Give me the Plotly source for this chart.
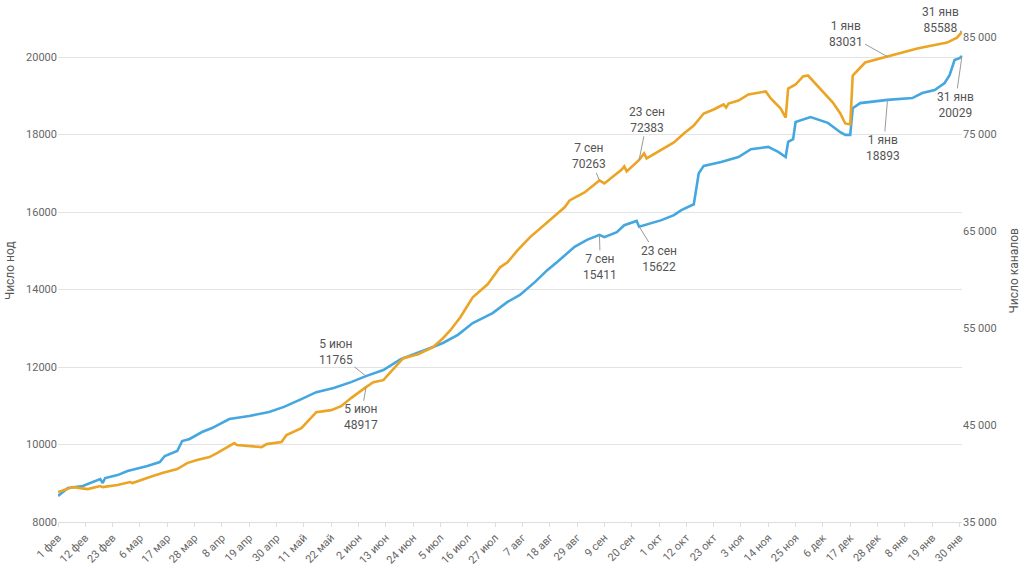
import plotly.graph_objects as go

# ---- data ----
nodes_dates = ["2021-02-01","2021-02-05","2021-02-11","2021-02-15","2021-02-18","2021-02-19","2021-02-20",
    "2021-02-25","2021-03-01","2021-03-09","2021-03-14","2021-03-16","2021-03-21","2021-03-23","2021-03-26",
    "2021-03-31","2021-04-04","2021-04-11","2021-04-19","2021-04-27","2021-05-03","2021-05-10","2021-05-16",
    "2021-05-23","2021-05-30","2021-06-05","2021-06-12","2021-06-19","2021-06-26","2021-07-02","2021-07-06",
    "2021-07-12","2021-07-18","2021-07-26","2021-08-01","2021-08-06","2021-08-12","2021-08-17","2021-08-21",
    "2021-08-28","2021-09-02","2021-09-07","2021-09-09","2021-09-14","2021-09-17","2021-09-22","2021-09-23",
    "2021-09-28","2021-10-02","2021-10-07","2021-10-10","2021-10-15","2021-10-17","2021-10-19","2021-10-26",
    "2021-11-02","2021-11-07","2021-11-14","2021-11-18","2021-11-21","2021-11-22","2021-11-24","2021-11-25",
    "2021-12-01","2021-12-08","2021-12-13","2021-12-15","2021-12-17","2021-12-18","2021-12-21","2022-01-01",
    "2022-01-11","2022-01-15","2022-01-20","2022-01-24","2022-01-26","2022-01-28","2022-01-30","2022-01-31"]
nodes_values = [8670,8877,8930,9030,9110,9006,9135,
    9210,9316,9445,9548,9703,9832,10090,10142,
    10322,10425,10658,10735,10840,10970,11170,11350,
    11460,11610,11765,11920,12200,12360,12515,12620,
    12830,13135,13390,13680,13860,14190,14500,14710,
    15100,15280,15411,15350,15480,15660,15770,15622,
    15720,15790,15920,16050,16200,17000,17190,17290,
    17420,17620,17680,17550,17420,17810,17880,18320,
    18450,18300,18060,17990,17990,18680,18810,18893,
    18940,19070,19150,19330,19530,19920,19970,20029]

channels_dates = ["2021-02-01","2021-02-07","2021-02-13","2021-02-18","2021-02-19","2021-02-25","2021-03-02",
    "2021-03-03","2021-03-10","2021-03-15","2021-03-21","2021-03-25","2021-03-29","2021-04-03","2021-04-06",
    "2021-04-10","2021-04-13","2021-04-14","2021-04-19","2021-04-24","2021-04-26","2021-05-02","2021-05-04",
    "2021-05-10","2021-05-16","2021-05-22","2021-05-26","2021-05-30","2021-06-05","2021-06-08","2021-06-12",
    "2021-06-15","2021-06-20","2021-06-26","2021-07-02","2021-07-06","2021-07-09","2021-07-13","2021-07-18",
    "2021-07-24","2021-07-29","2021-08-01","2021-08-05","2021-08-10","2021-08-17","2021-08-20","2021-08-24",
    "2021-08-26","2021-09-01","2021-09-06","2021-09-07","2021-09-09","2021-09-12","2021-09-16","2021-09-17",
    "2021-09-18","2021-09-23","2021-09-25","2021-09-26","2021-10-02","2021-10-07","2021-10-11","2021-10-15",
    "2021-10-19","2021-10-23","2021-10-27","2021-10-28","2021-10-29","2021-11-02","2021-11-06","2021-11-11",
    "2021-11-13","2021-11-15","2021-11-19","2021-11-21","2021-11-22","2021-11-25","2021-11-28","2021-11-30",
    "2021-12-05","2021-12-10","2021-12-13","2021-12-15","2021-12-17","2021-12-18","2021-12-23","2022-01-01",
    "2022-01-05","2022-01-13","2022-01-19","2022-01-25","2022-01-29","2022-01-31"]
channels_values = [38090,38600,38400,38710,38600,38815,39120,
    39020,39640,40050,40460,41080,41390,41700,42110,
    42730,43150,42940,42840,42730,43040,43250,43970,
    44690,46340,46550,46960,47790,48917,49430,49640,
    50470,51910,52320,53040,53970,54800,56140,58200,
    59540,61290,61800,63040,64380,65930,66650,67480,
    68200,69020,70050,70263,69950,70570,71390,71700,
    71190,72383,73050,72530,73460,74180,75110,75930,
    77170,77580,78100,77790,78200,78510,79130,79330,
    79440,78720,77680,76750,79750,80160,80990,81090,
    79750,78300,77170,76140,76030,81090,82430,83031,
    83350,83870,84180,84490,85000,85588]

x_tick_vals = ["2021-02-01","2021-02-12","2021-02-23","2021-03-06","2021-03-17","2021-03-28","2021-04-08",
    "2021-04-19","2021-04-30","2021-05-11","2021-05-22","2021-06-02","2021-06-13","2021-06-24","2021-07-05",
    "2021-07-16","2021-07-27","2021-08-07","2021-08-18","2021-08-29","2021-09-09","2021-09-20","2021-10-01",
    "2021-10-12","2021-10-23","2021-11-03","2021-11-14","2021-11-25","2021-12-06","2021-12-17","2021-12-28",
    "2022-01-08","2022-01-19","2022-01-30"]
x_tick_text = ["1 фев","12 фев","23 фев","6 мар","17 мар","28 мар","8 апр","19 апр","30 апр","11 май",
    "22 май","2 июн","13 июн","24 июн","5 июл","16 июл","27 июл","7 авг","18 авг","29 авг","9 сен",
    "20 сен","1 окт","12 окт","23 окт","3 ноя","14 ноя","25 ноя","6 дек","17 дек","28 дек","8 янв",
    "19 янв","30 янв"]
left_tick_vals = [8000, 10000, 12000, 14000, 16000, 18000, 20000]
right_tick_vals = [35000, 45000, 55000, 65000, 75000, 85000]
right_tick_text = ["35 000", "45 000", "55 000", "65 000", "75 000", "85 000"]

# annotations: (date, value, label, ax, ay)
node_notes = [("2021-06-05", 11765, "5 июн<br>11765", -30, -24),
              ("2021-09-07", 15411, "7 сен<br>15411", 1, 32),
              ("2021-09-23", 15622, "23 сен<br>15622", 20, 32),
              ("2022-01-01", 18893, "1 янв<br>18893", -4, 48),
              ("2022-01-31", 20029, "31 янв<br>20029", -7, 49)]
channel_notes = [("2021-06-05", 48917, "5 июн<br>48917", -5, 30),
                 ("2021-09-07", 70263, "7 сен<br>70263", -10, -24),
                 ("2021-09-23", 72383, "23 сен<br>72383", 8, -40),
                 ("2022-01-01", 83031, "1 янв<br>83031", -41, -23),
                 ("2022-01-31", 85588, "31 янв<br>85588", -22, -12)]

BLUE = "#45a7e0"
ORANGE = "#eba424"
FONT = "Roboto"

fig = go.Figure()
fig.add_trace(go.Scatter(x=nodes_dates, y=nodes_values, mode="lines", name="Число нод",
                         line=dict(color=BLUE, width=2.6), yaxis="y"))
fig.add_trace(go.Scatter(x=channels_dates, y=channels_values, mode="lines", name="Число каналов",
                         line=dict(color=ORANGE, width=2.6), yaxis="y2"))

annotations = []
for d, v, t, ax, ay in node_notes:
    annotations.append(dict(x=d, y=v, xref="x", yref="y", text=t, showarrow=True, arrowhead=0,
                            arrowwidth=1, arrowcolor="#9a9a9a", ax=ax, ay=ay,
                            font=dict(family=FONT, size=12, color="#555555")))
for d, v, t, ax, ay in channel_notes:
    annotations.append(dict(x=d, y=v, xref="x", yref="y2", text=t, showarrow=True, arrowhead=0,
                            arrowwidth=1, arrowcolor="#9a9a9a", ax=ax, ay=ay,
                            font=dict(family=FONT, size=12, color="#555555")))
# axis titles
annotations.append(dict(text="Число нод", xref="paper", yref="paper", x=-0.053, y=0.5,
                        xanchor="center", yanchor="middle", textangle=-90, showarrow=False,
                        font=dict(family=FONT, size=12, color="#555555")))
annotations.append(dict(text="Число каналов", xref="paper", yref="paper", x=1.058, y=0.5,
                        xanchor="center", yanchor="middle", textangle=-90, showarrow=False,
                        font=dict(family=FONT, size=12, color="#555555")))

fig.update_layout(
    template="none",
    width=1024, height=570,
    margin=dict(l=58, r=62, t=20, b=48),
    paper_bgcolor="white", plot_bgcolor="white",
    showlegend=False,
    font=dict(family=FONT, size=11, color="#666666"),
    xaxis=dict(type="date", range=["2021-02-01", "2022-01-31"], tickvals=x_tick_vals,
               ticktext=x_tick_text, tickangle=-45, showgrid=False, showline=True, automargin=False,
               linecolor="#dddddd", linewidth=1, ticks="outside", ticklen=4, tickcolor="#dddddd",
               tickfont=dict(family=FONT, size=11, color="#666666"), zeroline=False),
    yaxis=dict(range=[8000, 20955], tickvals=left_tick_vals, tickformat="d", showgrid=True,
               gridcolor="#e3e3e3", gridwidth=1, zeroline=False, showline=False, automargin=False,
               ticks="", tickfont=dict(family=FONT, size=11, color="#666666")),
    yaxis2=dict(range=[35000, 86820], overlaying="y", side="right", tickvals=right_tick_vals,
                ticktext=right_tick_text, showgrid=False, zeroline=False, showline=False,
                automargin=False, ticks="",
                tickfont=dict(family=FONT, size=11, color="#666666")),
    annotations=annotations,
)

fig.write_html("out.html", config={"displayModeBar": False},
               post_script="document.body.style.margin='0';document.body.style.overflow='hidden';")
